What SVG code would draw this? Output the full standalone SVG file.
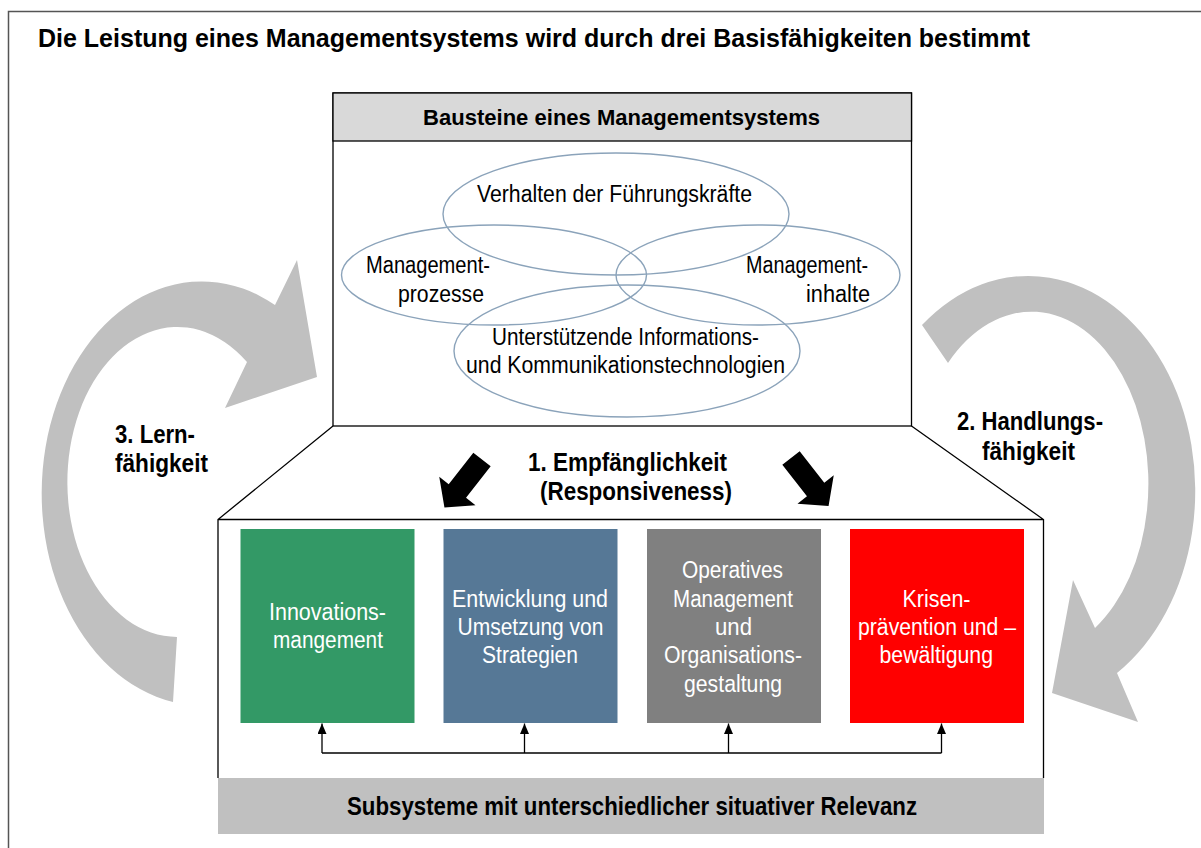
<svg xmlns="http://www.w3.org/2000/svg" width="1201" height="848" viewBox="0 0 1201 848">
<style>
.b{font-family:"Liberation Sans",Arial,sans-serif;font-weight:bold;fill:#000}
.r{font-family:"Liberation Sans",Arial,sans-serif;fill:#000}
.w{font-family:"Liberation Sans",Arial,sans-serif;fill:#fff;font-size:23px}
.ell{fill:none;stroke:#8ba3ba;stroke-width:1.4}
.ln{fill:none;stroke:#000;stroke-width:1.3}
.big{fill:#c0c0c0}
</style>
<defs>
<marker id="ah" markerUnits="userSpaceOnUse" markerWidth="11" markerHeight="9" refX="10.5" refY="4.5" orient="auto">
<path d="M0,0 L10.5,4.5 L0,9 Z" fill="#000"/>
</marker>
<path id="blk" d="M0,-11 L40,-11 L40,-23 L61,0 L40,23 L40,11 L0,11 Z" fill="#000"/>
</defs>
<rect width="1201" height="848" fill="#fff"/>
<path d="M8.5 848 V11.5 H1201" fill="none" stroke="#555" stroke-width="1.5"/>
<text class="b" x="38" y="47" font-size="25" textLength="992" lengthAdjust="spacingAndGlyphs">Die Leistung eines Managementsystems wird durch drei Basisfähigkeiten bestimmt</text>

<g id="learn-arrow">
<path class="big" d="M173 702 A160 212 0 1 1 275 305 L297 260 L317 377 L225 408 L247 362 A110 155 0 1 0 177 637 Z"/>
<text class="b" font-size="25" x="115" y="443" textLength="80" lengthAdjust="spacingAndGlyphs">3. Lern-</text>
<text class="b" font-size="25" x="115" y="472" textLength="93" lengthAdjust="spacingAndGlyphs">fähigkeit</text>
</g>
<g id="action-arrow">
<path class="big" d="M922 325 A167 215 0 1 1 1117 673 L1138 722 L1052 693 L1073 580 L1095 628 A117 172 0 1 0 948 363 Z"/>
<text class="b" font-size="25" x="957" y="430" textLength="146" lengthAdjust="spacingAndGlyphs">2. Handlungs-</text>
<text class="b" font-size="25" x="982" y="460" textLength="93" lengthAdjust="spacingAndGlyphs">fähigkeit</text>
</g>

<g id="bausteine">
<rect x="333" y="93" width="578.5" height="333" fill="#fff" stroke="#000" stroke-width="1.3"/>
<rect x="333" y="93" width="578.5" height="48" fill="#d9d9d9" stroke="#000" stroke-width="1.3"/>
<text class="b" font-size="22" x="423" y="125" textLength="397" lengthAdjust="spacingAndGlyphs">Bausteine eines Managementsystems</text>
<ellipse class="ell" cx="616" cy="214" rx="173" ry="61"/>
<ellipse class="ell" cx="494" cy="275" rx="152.5" ry="50"/>
<ellipse class="ell" cx="758" cy="275" rx="142" ry="50"/>
<ellipse class="ell" cx="627" cy="351" rx="173" ry="66"/>
<text class="r" font-size="23" x="477" y="202" textLength="275" lengthAdjust="spacingAndGlyphs">Verhalten der Führungskräfte</text>
<text class="r" font-size="23" x="366" y="273" textLength="124" lengthAdjust="spacingAndGlyphs">Management-</text>
<text class="r" font-size="23" x="398" y="302" textLength="86" lengthAdjust="spacingAndGlyphs">prozesse</text>
<text class="r" font-size="23" x="746" y="273" textLength="122" lengthAdjust="spacingAndGlyphs">Management-</text>
<text class="r" font-size="23" x="806" y="302" textLength="64" lengthAdjust="spacingAndGlyphs">inhalte</text>
<text class="r" font-size="23" x="492" y="345" textLength="267" lengthAdjust="spacingAndGlyphs">Unterstützende Informations-</text>
<text class="r" font-size="23" x="466" y="373" textLength="319" lengthAdjust="spacingAndGlyphs">und Kommunikationstechnologien</text>
</g>

<g id="subsysteme">
<path d="M333 426 L218 519.5 V778 M911.5 426 L1043.5 519.5 V778 M218 519.5 H1043.5" fill="none" stroke="#000" stroke-width="1.3"/>
<rect x="218" y="778" width="826" height="56" fill="#c0c0c0"/>
<text class="b" font-size="25" x="347" y="815" textLength="570" lengthAdjust="spacingAndGlyphs">Subsysteme mit unterschiedlicher situativer Relevanz</text>
</g>

<g id="empfaenglichkeit">
<use href="#blk" transform="translate(482 459.5) rotate(128)"/>
<use href="#blk" transform="translate(791 458) rotate(52)"/>
<text class="b" font-size="25" x="528" y="471" textLength="199" lengthAdjust="spacingAndGlyphs">1. Empfänglichkeit</text>
<text class="b" font-size="25" x="540" y="500" textLength="192" lengthAdjust="spacingAndGlyphs">(Responsiveness)</text>
</g>

<g id="innovation">
<rect x="240.5" y="529" width="174" height="194" fill="#339966"/>
<text class="w" x="269" y="620" textLength="117" lengthAdjust="spacingAndGlyphs">Innovations-</text>
<text class="w" x="273" y="648" textLength="110" lengthAdjust="spacingAndGlyphs">mangement</text>
</g>
<g id="strategie">
<rect x="443.5" y="529" width="174" height="194" fill="#567896"/>
<text class="w" x="452" y="607" textLength="156" lengthAdjust="spacingAndGlyphs">Entwicklung und</text>
<text class="w" x="457.5" y="635" textLength="146" lengthAdjust="spacingAndGlyphs">Umsetzung von</text>
<text class="w" x="482" y="663" textLength="96" lengthAdjust="spacingAndGlyphs">Strategien</text>
</g>
<g id="operativ">
<rect x="647" y="529" width="174" height="194" fill="#808080"/>
<text class="w" x="682" y="578" textLength="101" lengthAdjust="spacingAndGlyphs">Operatives</text>
<text class="w" x="673" y="607" textLength="120" lengthAdjust="spacingAndGlyphs">Management</text>
<text class="w" x="715" y="635" textLength="37" lengthAdjust="spacingAndGlyphs">und</text>
<text class="w" x="664" y="663" textLength="138" lengthAdjust="spacingAndGlyphs">Organisations-</text>
<text class="w" x="684" y="692" textLength="98" lengthAdjust="spacingAndGlyphs">gestaltung</text>
</g>
<g id="krise">
<rect x="850" y="529" width="174" height="194" fill="#ff0000"/>
<text class="w" x="902.5" y="607" textLength="68" lengthAdjust="spacingAndGlyphs">Krisen-</text>
<text class="w" x="858" y="635" textLength="158" lengthAdjust="spacingAndGlyphs">prävention und –</text>
<text class="w" x="879.5" y="663" textLength="113.5" lengthAdjust="spacingAndGlyphs">bewältigung</text>
</g>

<g id="connectors">
<path class="ln" d="M322 753 H941.5"/>
<path class="ln" d="M322 753 V723.5" marker-end="url(#ah)"/>
<path class="ln" d="M524.5 753 V723.5" marker-end="url(#ah)"/>
<path class="ln" d="M728.5 753 V723.5" marker-end="url(#ah)"/>
<path class="ln" d="M941.5 753 V723.5" marker-end="url(#ah)"/>
</g>
</svg>
